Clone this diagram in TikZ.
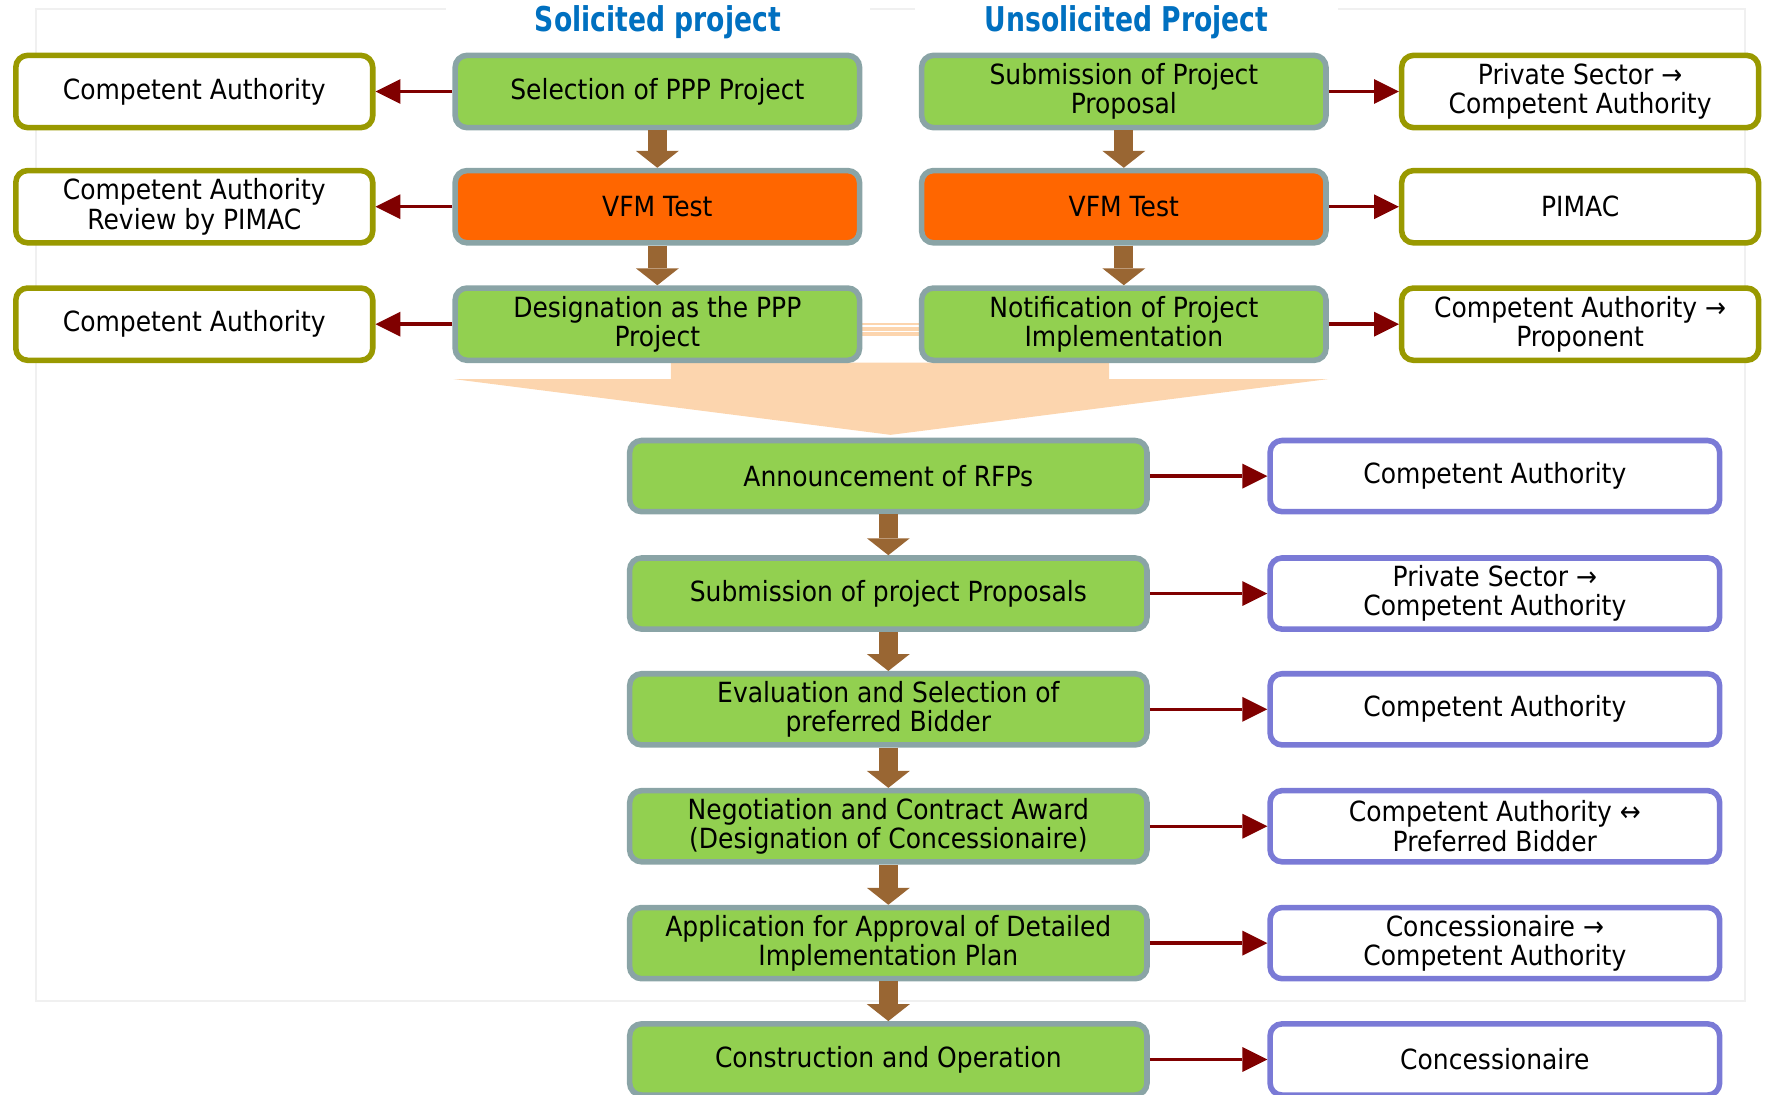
\documentclass[tikz,border=0pt]{standalone}
\usepackage{fontspec}
\setmainfont{DejaVu Sans}[FakeStretch=0.9]
\newfontfamily\headfont{DejaVu Sans}[FakeStretch=0.78]
\usetikzlibrary{arrows.meta, positioning}
\definecolor{stagegreen}{RGB}{146,208,80}
\definecolor{stageedge}{RGB}{138,164,166}
\definecolor{vfmorange}{RGB}{255,102,0}
\definecolor{authedge}{RGB}{153,153,0}
\definecolor{partyedge}{RGB}{122,122,214}
\definecolor{flowbrown}{RGB}{153,102,51}
\definecolor{linkred}{RGB}{128,0,0}
\definecolor{funnel}{RGB}{252,213,174}
\definecolor{headblue}{RGB}{0,112,192}

\begin{document}
\begin{tikzpicture}[
  base/.style={rectangle, rounded corners=3pt, align=center, line width=1.4pt,
               font=\fontsize{7}{7.4}\selectfont, inner sep=1pt},
  stagebox/.style={base, draw=stageedge, fill=stagegreen,
                   minimum width=3.58cm, minimum height=0.64cm},
  vfmbox/.style={stagebox, fill=vfmorange},
  mainbox/.style={stagebox, minimum width=4.58cm, minimum height=0.63cm},
  authbox/.style={base, draw=authedge, fill=white,
                  minimum width=3.16cm, minimum height=0.64cm},
  partybox/.style={base, draw=partyedge, fill=white,
                   minimum width=3.98cm, minimum height=0.63cm},
  head/.style={font=\headfont\bfseries\fontsize{8.6}{9}\selectfont, text=headblue,
               fill=white, minimum width=3.75cm, minimum height=0.36cm, inner sep=0pt},
  flow/.style={draw=flowbrown, line width=0.17cm,
               -{Triangle[width=0.38cm, length=0.15cm, line width=0pt]}},
  link/.style={draw=linkred, line width=0.85pt,
               -{Triangle[width=0.22cm, length=0.22cm, line width=0pt]}}
]
  \useasboundingbox (0,0) rectangle (15.68,-9.69);

  % Faint frame
  \draw[gray!12, line width=0.6pt] (0.32,-0.08) rectangle (15.45,-8.86);

  % Funnel into the common stage
  \fill[funnel] (5.94,-3.21) -- (5.94,-3.356) -- (4.015,-3.356) -- (7.885,-3.85)
    -- (11.76,-3.356) -- (9.82,-3.356) -- (9.82,-3.21) -- cycle;
  \draw[funnel, line width=0.02cm] (7.6,-2.87) -- (8.2,-2.87);
  \draw[funnel, line width=0.035cm] (7.6,-2.915) -- (8.2,-2.915);
  \draw[funnel, line width=0.035cm] (7.6,-2.96) -- (8.2,-2.96);

  % Column titles
  \node[head] (soltitle) at (5.825,-0.20) {Solicited project};
  \node[head] (unstitle) at (9.975,-0.20) {Unsolicited Project};

  % Row 1
  \node[authbox] (auth1) at (1.72,-0.81) {Competent Authority};
  \node[stagebox] (select) at (5.82,-0.81) {Selection of PPP Project};
  \node[stagebox] (submit) at (9.95,-0.81) {Submission of Project\\Proposal};
  \node[authbox] (private1) at (13.99,-0.81) {Private Sector →\\Competent Authority};

  % Row 2
  \node[authbox] (auth2) at (1.72,-1.83) {Competent Authority\\Review by PIMAC};
  \node[vfmbox] (vfmsol) at (5.82,-1.83) {VFM Test};
  \node[vfmbox] (vfmuns) at (9.95,-1.83) {VFM Test};
  \node[authbox] (pimac) at (13.99,-1.83) {PIMAC};

  % Row 3
  \node[authbox] (auth3) at (1.72,-2.87) {Competent Authority};
  \node[stagebox] (designate) at (5.82,-2.87) {Designation as the PPP\\Project};
  \node[stagebox] (notify) at (9.95,-2.87) {Notification of Project\\Implementation};
  \node[authbox] (proponent) at (13.99,-2.87) {Competent Authority →\\Proponent};

  % Common stages
  \node[mainbox] (rfp) at (7.865,-4.215) {Announcement of RFPs};
  \node[mainbox] (proposals) at (7.865,-5.255) {Submission of project Proposals};
  \node[mainbox] (evaluate) at (7.865,-6.28) {Evaluation and Selection of\\preferred Bidder};
  \node[mainbox] (negotiate) at (7.865,-7.315) {Negotiation and Contract Award\\(Designation of Concessionaire)};
  \node[mainbox] (approve) at (7.865,-8.35) {Application for Approval of Detailed\\Implementation Plan};
  \node[mainbox] (operate) at (7.865,-9.38) {Construction and Operation};

  % Responsible parties
  \node[partybox] (party1) at (13.235,-4.215) {Competent Authority};
  \node[partybox] (party2) at (13.235,-5.255) {Private Sector →\\Competent Authority};
  \node[partybox] (party3) at (13.235,-6.28) {Competent Authority};
  \node[partybox] (party4) at (13.235,-7.315) {Competent Authority ↔\\Preferred Bidder};
  \node[partybox] (party5) at (13.235,-8.35) {Concessionaire →\\Competent Authority};
  \node[partybox] (party6) at (13.235,-9.38) {Concessionaire};

  % Flow arrows
  \draw[flow] (select.south) -- (vfmsol.north);
  \draw[flow] (vfmsol.south) -- (designate.north);
  \draw[flow] (submit.south) -- (vfmuns.north);
  \draw[flow] (vfmuns.south) -- (notify.north);
  \draw[flow] (rfp.south) -- (proposals.north);
  \draw[flow] (proposals.south) -- (evaluate.north);
  \draw[flow] (evaluate.south) -- (negotiate.north);
  \draw[flow] (negotiate.south) -- (approve.north);
  \draw[flow] (approve.south) -- (operate.north);

  % Responsibility arrows
  \draw[link] (select.west) -- (auth1.east);
  \draw[link] (vfmsol.west) -- (auth2.east);
  \draw[link] (designate.west) -- (auth3.east);
  \draw[link] (submit.east) -- (private1.west);
  \draw[link] (vfmuns.east) -- (pimac.west);
  \draw[link] (notify.east) -- (proponent.west);
  \draw[link] (rfp.east) -- (party1.west);
  \draw[link] (proposals.east) -- (party2.west);
  \draw[link] (evaluate.east) -- (party3.west);
  \draw[link] (negotiate.east) -- (party4.west);
  \draw[link] (approve.east) -- (party5.west);
  \draw[link] (operate.east) -- (party6.west);
\end{tikzpicture}
\end{document}
